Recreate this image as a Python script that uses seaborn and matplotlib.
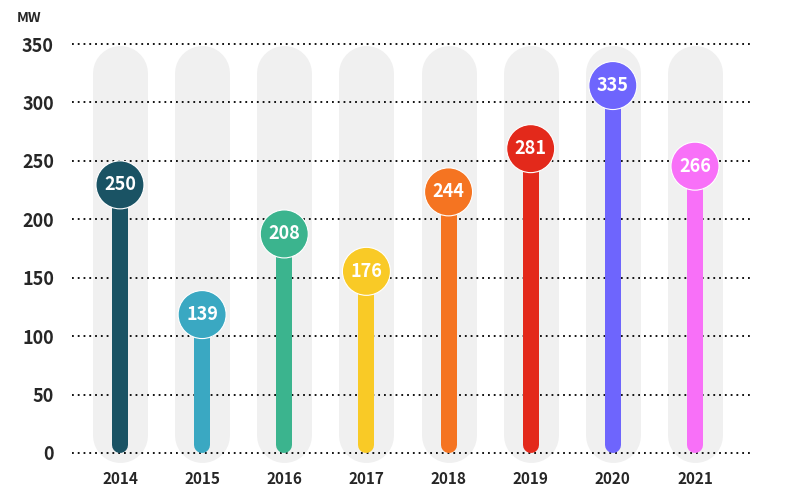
import matplotlib
matplotlib.use("Agg")
import matplotlib.pyplot as plt
import seaborn as sns
import pandas as pd

# chart data
years = ["2014", "2015", "2016", "2017", "2018", "2019", "2020", "2021"]
capacity_mw = [250, 139, 208, 176, 244, 281, 335, 266]
colors = ["#1a5364", "#3aa8c2", "#3bb48e", "#f9ca26", "#f57421", "#e3291b", "#6e65fd", "#f870f8"]
y_ticks = [0, 50, 100, 150, 200, 250, 300, 350]

sns.set_theme(style="white")
plt.rcParams['font.family'] = ['Noto Sans CJK JP', 'DejaVu Sans']

df = pd.DataFrame({"year": years, "mw": capacity_mw})
df["pos"] = range(len(df))

fig = plt.figure(figsize=(7.86, 5), dpi=100)
ax = fig.add_axes([72 / 786, 47 / 500, 680 / 786, 409 / 500])
ax.set_xlim(-0.584, 7.694)
ax.set_ylim(0, 350)

px_per_unit = 409 / 350
radius_px = 24

# gray background pills
pill_w = 55 * 0.72
pill_cap = 27.5 / px_per_unit
for p in df["pos"]:
    ax.plot([p, p], [-8 + pill_cap, 349 - pill_cap], color="#f0f0f0", lw=pill_w,
            solid_capstyle="round", zorder=1, clip_on=False)

# dotted grid
for t in y_ticks:
    ax.axhline(t, color="black", lw=1.3, linestyle=(0, (1, 2.2)), zorder=2, clip_on=False)

# stems
stem_w = 16 * 0.72
stem_cap = 8 / px_per_unit
df["center"] = df["mw"] - radius_px / px_per_unit
for p, c, top in zip(df["pos"], colors, df["center"]):
    ax.plot([p, p], [stem_cap, top], color=c, lw=stem_w, solid_capstyle="round", zorder=3,
            clip_on=False)

# heads
sns.scatterplot(data=df, x="pos", y="center", hue="year", palette=dict(zip(years, colors)),
                s=(2 * radius_px * 0.72) ** 2, edgecolor="white", linewidth=0.8,
                legend=False, zorder=4, ax=ax, clip_on=False)
for p, v, cy in zip(df["pos"], df["mw"], df["center"]):
    ax.text(p, cy, str(v), color="white", fontsize=13, fontweight="bold",
            ha="center", va="center", zorder=5)

ax.set_xticks(df["pos"])
ax.set_xticklabels(years, fontsize=11, fontweight="bold")
ax.set_yticks(y_ticks)
ax.set_yticklabels([str(t) for t in y_ticks], fontsize=13, fontweight="bold")
ax.tick_params(axis="x", length=0, pad=13)
ax.tick_params(axis="y", length=0, pad=13)
ax.set_xlabel("")
ax.set_ylabel("")
for s in ax.spines.values():
    s.set_visible(False)

fig.text(17 / 786, 1 - 18 / 500, "MW", fontsize=10, fontweight="bold", va="center", ha="left")

fig.savefig("out.png", dpi=100)
